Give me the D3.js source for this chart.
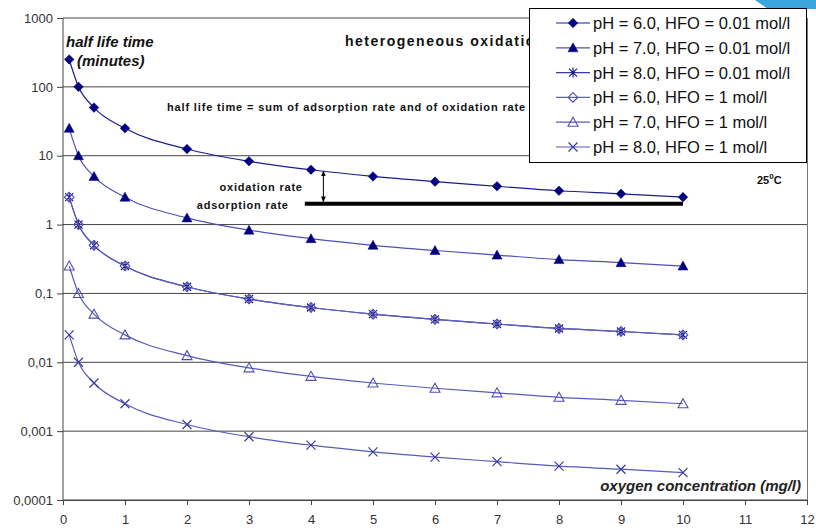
<!DOCTYPE html>
<html><head><meta charset="utf-8">
<script src="https://cdn.jsdelivr.net/npm/d3@7/dist/d3.min.js"></script>
<style>body{margin:0;background:#fff}svg{display:block;font-family:"Liberation Sans",Arial,sans-serif}</style>
</head><body><svg id="c" width="816" height="528"></svg>
<script>
// ---- data ----
const xValues = [0.1, 0.25, 0.5, 1, 2, 3, 4, 5, 6, 7, 8, 9, 10];
const seriesNames = [
  "pH = 6.0, HFO = 0.01 mol/l",
  "pH = 7.0, HFO = 0.01 mol/l",
  "pH = 8.0, HFO = 0.01 mol/l",
  "pH = 6.0, HFO = 1 mol/l",
  "pH = 7.0, HFO = 1 mol/l",
  "pH = 8.0, HFO = 1 mol/l"
];
const ph6Hfo001 = [250, 100, 50, 25, 12.5, 8.3, 6.25, 5, 4.2, 3.6, 3.1, 2.8, 2.5];
const ph7Hfo001 = [25, 10, 5, 2.5, 1.25, 0.83, 0.625, 0.5, 0.42, 0.36, 0.31, 0.28, 0.25];
const ph8Hfo001 = [2.5, 1, 0.5, 0.25, 0.125, 0.083, 0.0625, 0.05, 0.042, 0.036, 0.031, 0.028, 0.025];
const ph6Hfo1   = [2.5, 1, 0.5, 0.25, 0.125, 0.083, 0.0625, 0.05, 0.042, 0.036, 0.031, 0.028, 0.025];
const ph7Hfo1   = [0.25, 0.1, 0.05, 0.025, 0.0125, 0.0083, 0.00625, 0.005, 0.0042, 0.0036, 0.0031, 0.0028, 0.0025];
const ph8Hfo1   = [0.025, 0.01, 0.005, 0.0025, 0.00125, 0.00083, 0.000625, 0.0005, 0.00042, 0.00036, 0.00031, 0.00028, 0.00025];
const seriesValues = [ph6Hfo001, ph7Hfo001, ph8Hfo001, ph6Hfo1, ph7Hfo1, ph8Hfo1];
const xTicks = [0,1,2,3,4,5,6,7,8,9,10,11,12];
const yTicks = [0.0001, 0.001, 0.01, 0.1, 1, 10, 100, 1000];
const yTickLabels = ["0,0001", "0,001", "0,01", "0,1", "1", "10", "100", "1000"];
const adsorptionLevel = 2;       // thick line value
const adsorptionRange = [3.9, 10];
const arrowX = 4.2;

// ---- styles ----
const markerTypes = ["diamond", "triangle", "asterisk", "odiamond", "otriangle", "cross"];
const lineColors = ["#1c1c8e", "#5050b4", "#3a3aa6", "#6060bc", "#5a5ab8", "#5a5ab8"];
const markerColors = ["#000080", "#000080", "#1a1a90", "#4a4ab0", "#5050b4", "#3a3aa4"];

const svg = d3.select("#c");
const L = 63, R = 807, T = 18, B = 500;
const x = d3.scaleLinear().domain([0, 12]).range([L, R]);
const y = d3.scaleLog().domain([0.0001, 1000]).range([B, T]);

// decoration top-right
svg.append("path").attr("d", "M755,0 L816,0 L816,9 L768,9 Z").attr("fill", "#39a6dc");

// gridlines
svg.append("g").selectAll("line").data(yTicks).join("line")
  .attr("x1", L).attr("x2", R).attr("y1", d => y(d)).attr("y2", d => y(d))
  .attr("stroke", "#444").attr("stroke-width", 1);
// right border
svg.append("line").attr("x1", R + 0.5).attr("x2", R + 0.5).attr("y1", T).attr("y2", B).attr("stroke", "#777");

// axes
const yAxis = d3.axisLeft(y).tickValues(yTicks).tickFormat((d, i) => yTickLabels[i]).tickSize(6).tickPadding(4);
const gy = svg.append("g").attr("transform", `translate(${L},0)`).call(yAxis);
const xAxis = d3.axisBottom(x).tickValues(xTicks).tickFormat(d3.format("d")).tickSize(5).tickPadding(10);
const gx = svg.append("g").attr("transform", `translate(0,${B})`).call(xAxis);
[gx, gy].forEach(g => {
  g.select(".domain").attr("stroke", "#444");
  g.selectAll(".tick line").attr("stroke", "#444");
  g.selectAll("text").attr("font-size", 13).attr("fill", "#333").attr("font-family", "Liberation Sans, Arial, sans-serif");
});
gy.select(".domain").attr("d", `M-0,${B}V${T}`);

// annotations
svg.append("text").attr("x", 345).attr("y", 46).attr("font-size", 14).attr("font-weight", "bold")
  .attr("letter-spacing", 1.5).attr("fill", "#111").text("heterogeneous oxidation");
svg.append("text").attr("x", 167).attr("y", 111).attr("font-size", 11).attr("font-weight", "bold")
  .attr("letter-spacing", 0.85).attr("fill", "#111").text("half life time = sum of adsorption rate and of oxidation rate");
svg.append("text").attr("x", x(adsorptionRange[0]) - 2).attr("y", 191).attr("text-anchor", "end").attr("font-size", 11).attr("font-weight", "bold").attr("letter-spacing", 0.8).attr("fill", "#111").text("oxidation rate");
svg.append("text").attr("x", x(adsorptionRange[0]) - 16).attr("y", 209).attr("text-anchor", "end").attr("font-size", 11).attr("font-weight", "bold").attr("letter-spacing", 0.8).attr("fill", "#111").text("adsorption rate");
svg.append("line").attr("x1", x(adsorptionRange[0])).attr("x2", x(adsorptionRange[1]))
  .attr("y1", y(adsorptionLevel)).attr("y2", y(adsorptionLevel)).attr("stroke", "#000").attr("stroke-width", 4);
// arrow
const defs = svg.append("defs");
defs.append("marker").attr("id", "ah").attr("viewBox", "0 0 10 10").attr("refX", 9).attr("refY", 5)
  .attr("markerWidth", 6).attr("markerHeight", 6).attr("orient", "auto-start-reverse")
  .append("path").attr("d", "M0,1 L10,5 L0,9 Z").attr("fill", "#000");
svg.append("line").attr("x1", x(arrowX)).attr("x2", x(arrowX)).attr("y1", y(6)).attr("y2", y(adsorptionLevel) - 2)
  .attr("stroke", "#000").attr("stroke-width", 1).attr("marker-start", "url(#ah)").attr("marker-end", "url(#ah)");
const tC = svg.append("text").attr("x", 757).attr("y", 184).attr("font-size", 11).attr("font-weight", "bold").attr("fill", "#111");
tC.append("tspan").text("25");
tC.append("tspan").attr("dy", -5).attr("font-size", 8).text("0");
tC.append("tspan").attr("dy", 5).text("C");

svg.append("text").attr("x", 66).attr("y", 47).attr("font-size", 15).attr("font-weight", "bold").attr("font-style", "italic").attr("fill", "#111").text("half life time");
svg.append("text").attr("x", 77).attr("y", 66).attr("font-size", 15).attr("font-weight", "bold").attr("font-style", "italic").attr("fill", "#111").text("(minutes)");
svg.append("text").attr("x", 801).attr("y", 491).attr("text-anchor", "end").attr("font-size", 15).attr("font-style", "italic").attr("font-weight", "bold").attr("fill", "#222").text("oxygen concentration (mg/l)");

// marker drawing
function drawMarker(g, type, color, cx, cy) {
  if (type === "diamond" || type === "odiamond") {
    const s = 4.8;
    g.append("path").attr("d", `M${cx},${cy - s}L${cx + s},${cy}L${cx},${cy + s}L${cx - s},${cy}Z`)
      .attr("fill", type === "diamond" ? color : "none").attr("stroke", color).attr("stroke-width", type === "diamond" ? 0.5 : 1.1);
  } else if (type === "triangle" || type === "otriangle") {
    const s = 5;
    g.append("path").attr("d", `M${cx},${cy - s}L${cx + s},${cy + s * 0.8}L${cx - s},${cy + s * 0.8}Z`)
      .attr("fill", type === "triangle" ? color : "none").attr("stroke", color).attr("stroke-width", type === "triangle" ? 0.5 : 1.1);
  } else if (type === "asterisk") {
    const s = 4;
    g.append("path").attr("d", `M${cx - s},${cy - s}L${cx + s},${cy + s}M${cx - s},${cy + s}L${cx + s},${cy - s}M${cx},${cy - s - 1}L${cx},${cy + s + 1}`)
      .attr("stroke", color).attr("stroke-width", 1.2).attr("fill", "none");
  } else if (type === "cross") {
    const s = 4.5;
    g.append("path").attr("d", `M${cx - s},${cy - s}L${cx + s},${cy + s}M${cx - s},${cy + s}L${cx + s},${cy - s}`)
      .attr("stroke", color).attr("stroke-width", 1.2).attr("fill", "none");
  }
}

// series
const line = d3.line().x(d => x(d[0])).y(d => y(d[1])).curve(d3.curveMonotoneX);
seriesValues.forEach((vals, i) => {
  const pts = xValues.map((xv, j) => [xv, vals[j]]);
  const g = svg.append("g");
  g.append("path").attr("d", line(pts)).attr("fill", "none").attr("stroke", lineColors[i]).attr("stroke-width", 1.2);
  pts.forEach(p => drawMarker(g, markerTypes[i], markerColors[i], x(p[0]), y(p[1])));
});

// legend
const lg = svg.append("g");
lg.append("rect").attr("x", 529.5).attr("y", 8.5).attr("width", 277).attr("height", 154)
  .attr("fill", "#fff").attr("stroke", "#000").attr("stroke-width", 1);
seriesNames.forEach((name, i) => {
  const cy = 23 + i * 24.8;
  lg.append("line").attr("x1", 556).attr("x2", 590).attr("y1", cy).attr("y2", cy).attr("stroke", lineColors[i]).attr("stroke-width", 1.2);
  drawMarker(lg, markerTypes[i], markerColors[i], 573, cy);
  lg.append("text").attr("x", 593).attr("y", cy + 6).attr("font-size", 16.5).attr("fill", "#111").text(name);
});
</script></body></html>
